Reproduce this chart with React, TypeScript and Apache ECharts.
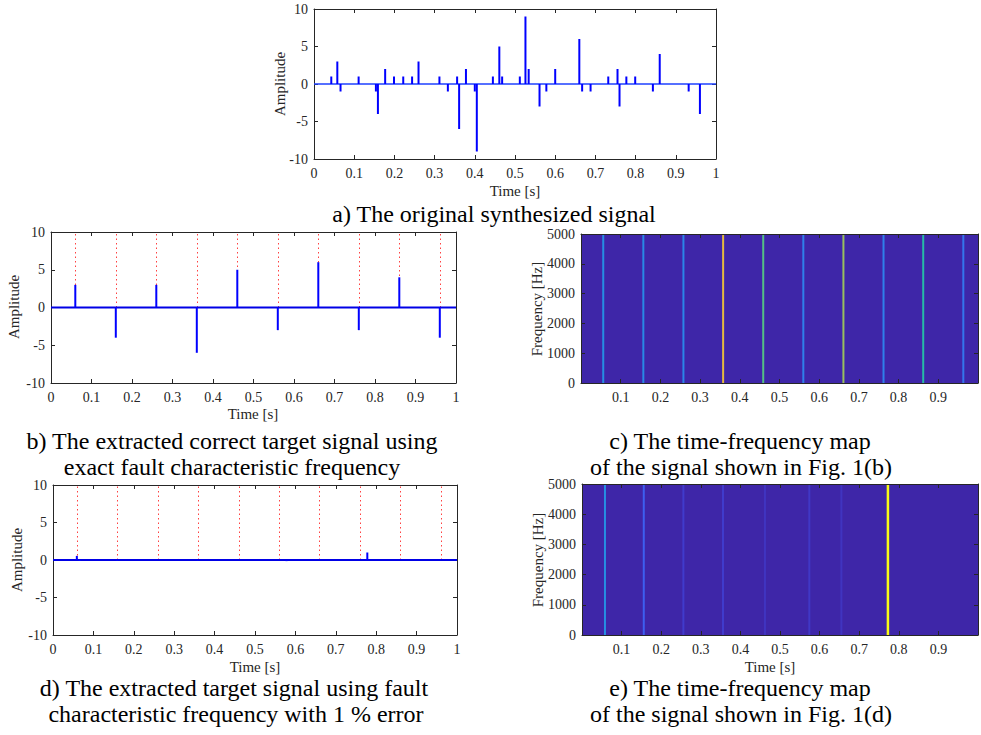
import React, { useEffect, useRef } from "react";
import * as echarts from "echarts";

// ---- data ----
const origTimes = [0.043, 0.058, 0.066, 0.111, 0.154, 0.159, 0.177, 0.199, 0.222, 0.244, 0.26, 0.312, 0.333, 0.356, 0.361, 0.378, 0.4, 0.405, 0.445, 0.461, 0.468, 0.512, 0.526, 0.534, 0.561, 0.578, 0.6, 0.66, 0.667, 0.688, 0.732, 0.755, 0.76, 0.777, 0.799, 0.843, 0.86, 0.932, 0.96];
const origAmps = [1, 3, -1, 1, -1, -4, 2, 1, 1, 1, 3, 1, -1, 1, -6, 2, -1, -9, 1, 5, 1, 1, 9, 2, -3, -1, 2, 6, -1, -1, 1, 2, -3, 1, 1, -1, 4, -1, -4];

const targetTimes = [0.06, 0.16, 0.26, 0.36, 0.46, 0.56, 0.66, 0.76, 0.86, 0.96];
const correctAmps = [3, -4, 3, -6, 5, -3, 6, -3, 4, -4];

const errTimes = [0.059, 0.066, 0.159, 0.358, 0.578, 0.778];
const errAmps = [0.55, -0.12, -0.1, -0.08, -0.15, 1.0];

const tfcTimes = [0.056, 0.157, 0.258, 0.358, 0.459, 0.56, 0.661, 0.762, 0.862, 0.963];
const tfcLevels = [0.3, 0.28, 0.27, 0.84, 0.6, 0.25, 0.7, 0.25, 0.52, 0.22];

const tfeTimes = [0.058, 0.156, 0.256, 0.356, 0.462, 0.574, 0.655, 0.7725];
const tfeLevels = [0.3, 0.16, 0.06, 0.06, 0.04, 0.05, 0.04, 1.0];

const ampTicks = { min: -10, max: 10, interval: 5 };
const timeTicks = { min: 0, max: 1, interval: 0.1 };
const freqTicks = { min: 0, max: 5000, interval: 1000 };

const parula = ["#3e26a8", "#4352f2", "#2f80ea", "#18a2d6", "#1cb8ae", "#62c27a", "#bcbd4a", "#f5b93a", "#f9fb16"];

const FONT = "Liberation Serif";
const AX = "#262626";

export default function App() {
  const ref = useRef<HTMLDivElement>(null);
  useEffect(() => {
    if (!ref.current) return;
    const chart = echarts.init(ref.current, undefined, { renderer: "svg" });

    const grids = [
      { left: 314, top: 9, width: 402, height: 150 },
      { left: 51, top: 232, width: 405, height: 151 },
      { left: 581, top: 234, width: 400, height: 149 },
      { left: 53, top: 485, width: 404, height: 150 },
      { left: 582, top: 484, width: 400, height: 151 },
    ];
    const isHeat = [false, false, true, false, true];

    const xAxis: any[] = [];
    const yAxis: any[] = [];
    grids.forEach((g, i) => {
      const heat = isHeat[i];
      const common = {
        gridIndex: i,
        type: "value",
        splitLine: { show: false },
        axisLine: { show: true, onZero: false, lineStyle: { color: AX, width: 1 } },
        axisTick: { show: true, inside: true, length: 4, lineStyle: { color: AX } },
        z: heat ? 5 : 0,
      };
      const labelStyle = { fontFamily: FONT, fontSize: 14, color: AX };
      xAxis.push({
        ...common,
        position: "bottom",
        ...timeTicks,
        axisLabel: {
          ...labelStyle,
          margin: 7,
          formatter: (v: number) => {
            if (heat && (v === 0 || v === 1)) return "";
            return String(Math.round(v * 10) / 10);
          },
        },
      });
      xAxis.push({ ...common, position: "top", ...timeTicks, axisLabel: { show: false } });
      const yt = heat ? freqTicks : ampTicks;
      yAxis.push({
        ...common,
        position: "left",
        ...yt,
        axisLabel: { ...labelStyle, margin: 6, formatter: (v: number) => String(v) },
      });
      yAxis.push({ ...common, position: "right", ...yt, axisLabel: { show: false } });
    });

    const baseline = (gi: number, color: string, width: number) => ({
      type: "line",
      xAxisIndex: 2 * gi,
      yAxisIndex: 2 * gi,
      data: [[0, 0], [1, 0]],
      symbol: "none",
      lineStyle: { color, width },
      z: 2,
    });
    const stems = (gi: number, t: number[], a: number[]) => ({
      type: "bar",
      xAxisIndex: 2 * gi,
      yAxisIndex: 2 * gi,
      data: t.map((x, k) => [x, a[k]]),
      barWidth: 2,
      itemStyle: { color: "#0000ff" },
      z: 3,
    });
    const redLines = (gi: number) => ({
      type: "line",
      xAxisIndex: 2 * gi,
      yAxisIndex: 2 * gi,
      data: [],
      z: 1,
      markLine: {
        silent: true,
        z: 1,
        symbol: "none",
        animation: false,
        label: { show: false },
        lineStyle: { color: "#ff4040", type: [1.5, 3], width: 1 },
        data: targetTimes.map((t) => [{ coord: [t, 0] }, { coord: [t, 10] }]),
      },
    });
    const heatSeries = (gi: number, t: number[], lv: number[]) => ({
      type: "custom",
      xAxisIndex: 2 * gi,
      yAxisIndex: 2 * gi,
      data: t.map((x, k) => [x, lv[k]]),
      z: 2,
      renderItem: (params: any, api: any) => {
        const top = api.coord([api.value(0), 5000]);
        const bot = api.coord([api.value(0), 0]);
        const w = api.value(1) > 0.9 ? 2.5 : 2;
        return {
          type: "rect",
          shape: { x: top[0] - w / 2, y: top[1], width: w, height: bot[1] - top[1] },
          style: { fill: api.visual("color") },
        };
      },
    });

    const series: any[] = [
      baseline(0, "#1e40ff", 1.5),
      stems(0, origTimes, origAmps),
      redLines(1),
      baseline(1, "#0000e6", 2),
      stems(1, targetTimes, correctAmps),
      heatSeries(2, tfcTimes, tfcLevels),
      redLines(3),
      baseline(3, "#0000e6", 2),
      stems(3, errTimes, errAmps),
      heatSeries(4, tfeTimes, tfeLevels),
    ];

    const txt = (text: string, x: number, y: number, size: number, rot = 0, color = "#000") => ({
      type: "text",
      x,
      y,
      rotation: rot,
      style: { text, fontFamily: FONT, fontSize: size, fill: color, align: "center", verticalAlign: "middle" },
      z: 10,
    });
    const R = Math.PI / 2;
    const CAP = 24;

    chart.setOption({
      animation: false,
      backgroundColor: "#ffffff",
      grid: grids.map((g, i) => ({
        ...g,
        show: isHeat[i],
        backgroundColor: isHeat[i] ? "#3e26a8" : "transparent",
        borderWidth: 0,
        containLabel: false,
      })),
      xAxis,
      yAxis,
      visualMap: {
        type: "continuous",
        show: false,
        seriesIndex: [5, 9],
        dimension: 1,
        min: 0,
        max: 1,
        inRange: { color: parula },
      },
      series,
      graphic: [
        txt("Amplitude", 280, 84, 15, R, AX),
        txt("Time [s]", 515, 191, 15, 0, AX),
        txt("a) The original synthesized signal", 494, 214, CAP),
        txt("Amplitude", 14, 307, 15, R, AX),
        txt("Time [s]", 253, 414, 15, 0, AX),
        txt("b) The extracted correct target signal using", 232, 441, CAP),
        txt("exact fault characteristic frequency", 232, 467, CAP),
        txt("Frequency [Hz]", 537, 309, 15, R, AX),
        txt("c) The time-frequency map", 740, 441, CAP),
        txt("of the signal shown in Fig. 1(b)", 741, 467, CAP),
        txt("Amplitude", 17, 560, 15, R, AX),
        txt("Time [s]", 255, 667, 15, 0, AX),
        txt("d) The extracted target signal using fault", 234, 688, CAP),
        txt("characteristic frequency with 1 % error", 236, 714, CAP),
        txt("Frequency [Hz]", 538, 560, 15, R, AX),
        txt("Time [s]", 770, 667, 15, 0, AX),
        txt("e) The time-frequency map", 740, 688, CAP),
        txt("of the signal shown in Fig. 1(d)", 741, 714, CAP),
      ],
    });
    return () => chart.dispose();
  }, []);
  return (
    <div
      ref={ref}
      style={{ position: "fixed", left: 0, top: 0, width: 981, height: 735, background: "#fff" }}
    />
  );
}
